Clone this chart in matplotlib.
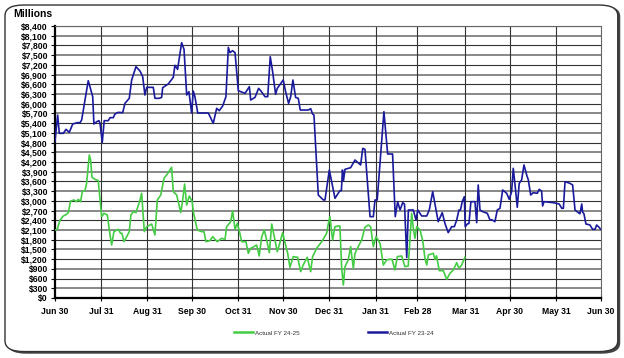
import matplotlib
matplotlib.use("Agg")
import matplotlib.pyplot as plt
from matplotlib.patches import FancyBboxPatch
from matplotlib.ticker import FuncFormatter

# day offset from Jun 30 and value in $ millions
fy2324_days = [0, 1.8, 2.9, 5.6, 7.4, 9.6, 11.9, 14.9, 16.8, 17.9, 22.3, 25.3, 26.1, 28, 29.5, 30.2,
               31.7, 33, 35.7, 36.9, 39.1, 40.2, 42.4, 45.4, 46.9, 49.8, 51.4, 54.3, 57, 58.8, 60.3,
               61.5, 65.9, 67, 69.9, 71.5, 72.2, 75.9, 79.3, 80.4, 82.2, 84.9, 86.5, 88.3, 89.8, 91.6,
               92.7, 93.8, 95.7, 102.8, 106.1, 108.4, 110.1, 112.4, 114.6, 116.2, 117.3, 119.1, 120.7,
               122.9, 127.4, 130.3, 131.2, 134.1, 136.5, 137.9, 140.8, 142.6, 144.3, 145.9, 147.9, 149,
               153, 154.6, 156.6, 158, 159.5, 161.3, 163.1, 164.4, 169.8, 171.4, 172.7, 173.6, 176.5,
               179.9, 181, 183.9, 187.7, 191, 192, 192.7, 193.4, 194.4, 198.2, 201.1, 204.9, 206.3,
               207.8, 211.2, 213.4, 214.5, 216, 220.5, 223, 226.3, 228.1, 229.7, 231.3, 233.1, 234.3,
               235.8, 236.9, 240.2, 242, 243.2, 245.8, 249.2, 250.9, 253.2, 256.9, 259.6, 261.4, 263.6,
               265.9, 267.7, 269.3, 270.8, 271.8, 273, 274.4, 275, 276.4, 277.5, 278.8, 281.5, 282.7,
               283.7, 284.9, 286.7, 289.8, 291.6, 292.7, 294.9, 296.5, 298.3, 300.1, 302.8, 304.5,
               306.1, 307.2, 308.4, 309.9, 311.2, 312.8, 314.4, 316.2, 317.3, 318.9, 320.6, 323.3,
               324.6, 326.2, 326.9, 327.8, 334, 338, 339.7, 340.8, 341.9, 345.2, 347, 348.6, 350.8,
               351.9, 353.1, 353.7, 354.6, 355.9, 358.6, 360.4, 362, 363.1, 364.7, 365.8]
fy2324_vals = [4830, 5650, 5085, 5085, 5208, 5116, 5373, 5414, 5414, 5500, 6711, 6217, 5373, 5445, 5476,
               5394, 4807, 5476, 5476, 5569, 5569, 5682, 5733, 5723, 6011, 6166, 6732, 7143, 7010, 6835,
               6268, 6505, 6505, 6166, 6166, 6196, 6495, 6608, 6814, 7185, 7061, 7885, 7679, 6268, 6371,
               5713, 6392, 6217, 5713, 5713, 5394, 5857, 5785, 5929, 6217, 7740, 7576, 7637, 7576, 6402,
               6320, 6526, 6114, 6196, 6474, 6402, 6217, 6217, 7452, 6989, 6289, 6474, 6732, 6371, 6011,
               6217, 6732, 6196, 6166, 5805, 5805, 5846, 5682, 5651, 3181, 3027, 3027, 3953, 3078, 3315,
               3315, 3953, 3624, 3974, 4025, 4262, 4108, 4622, 4591, 2512, 2512, 3027, 3027, 5755, 4447,
               4447, 2512, 2975, 2718, 2944, 2900, 1250, 2718, 2718, 2409, 2718, 2533, 2533, 2718, 3284,
               2357, 2636, 2306, 2018, 2203, 2203, 2409, 2718, 2718, 2975, 3130, 2203, 2286, 2300, 2975,
               2975, 2327, 3490, 2718, 2667, 2615, 2409, 2420, 2357, 2718, 2770, 3335, 3233, 3047, 3284,
               4005, 3490, 2800, 3541, 3644, 4108, 3799, 3644, 3181, 3253, 3233, 3356, 3300, 2842, 2975,
               2944, 2903, 2770, 2770, 3593, 3541, 3490, 2718, 2636, 2600, 2903, 2650, 2600, 2286, 2255,
               2121, 2121, 2255, 2183, 2121]

fy2425_days = [0, 1.5, 3.4, 5.6, 7.8, 8.9, 10.5, 12.7, 14.5, 15.6, 17.2, 18.3, 20.1, 21.2, 23, 23.9,
               24.8, 26.8, 29, 31.3, 32.8, 35.1, 36.9, 38, 39.5, 42.4, 44, 44.9, 46.3, 48.1, 49.8, 50.9,
               52.5, 54.3, 57, 58.1, 59.9, 61.5, 62.5, 64.8, 67, 68.6, 70.9, 73.1, 75.3, 78.2, 79.3,
               81.6, 84.3, 85.6, 86.9, 88.3, 90, 92, 92.7, 95.4, 98.3, 99.9, 101.2, 103.9, 105.7, 107.3,
               108.8, 111.7, 114, 115.1, 117.8, 119.1, 120.7, 122.2, 123.5, 125.2, 128, 129.6, 131.2,
               133.4, 135.2, 136.9, 138.6, 140.3, 141.9, 143.7, 145.3, 147, 149, 150.8, 152.6, 154.2,
               156, 157.5, 159.7, 162.7, 164.7, 166.4, 169.1, 171.4, 172.7, 175.4, 178.8, 182.1, 183.2,
               184.3, 186.1, 187.7, 189.9, 191, 192.2, 193.3, 194.4, 196.6, 198.2, 200, 201.1, 203.3,
               205.6, 207.8, 210, 211.6, 213.4, 215.2, 217.9, 220.1, 222.3, 224.1, 225.9, 227.9, 229.5,
               232.4, 234.6, 236.8, 239.1, 240.2, 241.3, 242.5, 244.7, 246.5, 248, 249.2, 250.3, 253.6,
               254.7, 255.8, 257.6, 260.3, 262.6, 264.8, 267, 269.3, 270.8, 272.6, 274.8]
fy2425_vals = [2100, 2121, 2409, 2533, 2584, 2636, 2996, 3027, 2975, 3047, 2975, 3284, 3315, 3541, 4416,
               4262, 3727, 3665, 3624, 2512, 2615, 2563, 1946, 1637, 2049, 2121, 1997, 1997, 1740, 1895,
               2049, 2563, 2667, 2636, 3027, 3233, 2049, 2203, 2224, 2286, 1946, 3027, 3181, 3696, 3830,
               4036, 3284, 3181, 2636, 3027, 3521, 2872, 3150, 2975, 2667, 2100, 2049, 2049, 1740, 1771,
               1895, 1812, 1740, 1843, 1812, 2203, 2357, 2697, 2121, 2306, 2080, 1740, 1740, 1380, 1534,
               1586, 1637, 1297, 1895, 2100, 1792, 1401, 2286, 1895, 1431, 1709, 2018, 1709, 1380, 948,
               1277, 1256, 814, 1020, 1256, 814, 1277, 1534, 1740, 1997, 2286, 2512, 1792, 2203, 2224,
               2224, 917, 402, 968, 1174, 1586, 917, 1380, 1586, 1792, 2183, 2255, 2203, 1586, 1895,
               1689, 1020, 1174, 1195, 1195, 865, 1277, 1297, 968, 989, 2615, 2152, 1843, 2203, 2100,
               1771, 1226, 1020, 1329, 1380, 1195, 1300, 845, 845, 577, 762, 865, 1092, 917, 1020, 1256]

tick_days = [0, 31, 62, 92, 123, 153, 184, 215, 243, 275, 305, 336, 366]
tick_labels = ['Jun 30', 'Jul 31', 'Aug 31', 'Sep 30', 'Oct 31', 'Nov 30', 'Dec 31',
               'Jan 31', 'Feb 28', 'Mar 31', 'Apr 30', 'May 31', 'Jun 30']

plt.rcParams['font.family'] = ['Liberation Sans', 'DejaVu Sans']

fig = plt.figure(figsize=(6.24, 3.58), dpi=100)

# rounded frame with a little shadow
shadow = FancyBboxPatch((0.012, 0.012), 0.982, 0.972, boxstyle="round,pad=0,rounding_size=0.03",
                        transform=fig.transFigure, facecolor='#444444', edgecolor='none', zorder=-2)
frame = FancyBboxPatch((0.008, 0.018), 0.982, 0.968, boxstyle="round,pad=0,rounding_size=0.03",
                       transform=fig.transFigure, facecolor='white', edgecolor='#333333',
                       linewidth=1.0, zorder=-1)
fig.patches.extend([shadow, frame])

ax = fig.add_axes([0.0881, 0.1676, 0.875, 0.7598])
ax.set_facecolor('white')

ax.plot(fy2425_days, fy2425_vals, color='#44cc44', linewidth=1.2, label='Actual FY 24-25', zorder=3)
ax.plot(fy2324_days, fy2324_vals, color='#1a1a9c', linewidth=1.2, label='Actual FY 23-24', zorder=3)

ax.set_xlim(0, 366)
ax.set_ylim(0, 8400)
ax.set_yticks(range(0, 8401, 300))
ax.yaxis.set_major_formatter(FuncFormatter(lambda v, p: '${:,.0f}'.format(v)))
ax.set_xticks(tick_days)
ax.set_xticklabels(tick_labels)

for i, y in enumerate(range(300, 8401, 300)):
    if i % 2 == 0:
        ax.axhline(y, color='#888888', linewidth=1.4, zorder=1)
    else:
        ax.axhline(y, color='#333333', linewidth=0.8, zorder=1)
for d in tick_days[1:-1]:
    ax.axvline(d, color='#333333', linewidth=0.8, zorder=1)

for s in ['top', 'right']:
    ax.spines[s].set_color('#666666')
    ax.spines[s].set_linewidth(0.8)
ax.spines['left'].set_linewidth(1.6)
ax.spines['bottom'].set_linewidth(1.6)

ax.tick_params(axis='both', labelsize=6.2, length=3, width=0.8, pad=2)
ax.tick_params(axis='x', direction='inout', length=5, pad=4)
for lbl in ax.get_xticklabels() + ax.get_yticklabels():
    lbl.set_fontweight('bold')

fig.text(0.022, 0.96, 'Millions', fontsize=7.5, fontweight='bold', va='center', ha='left')

leg = fig.legend(loc='center', bbox_to_anchor=(0.535, 0.07), ncol=2, frameon=False,
                 fontsize=4.5, handlelength=3.0, columnspacing=11, handletextpad=0.3)
for t in leg.get_texts():
    t.set_color('#333333')
for h in leg.get_lines():
    h.set_linewidth(1.8)

fig.savefig('out.png', dpi=100)
